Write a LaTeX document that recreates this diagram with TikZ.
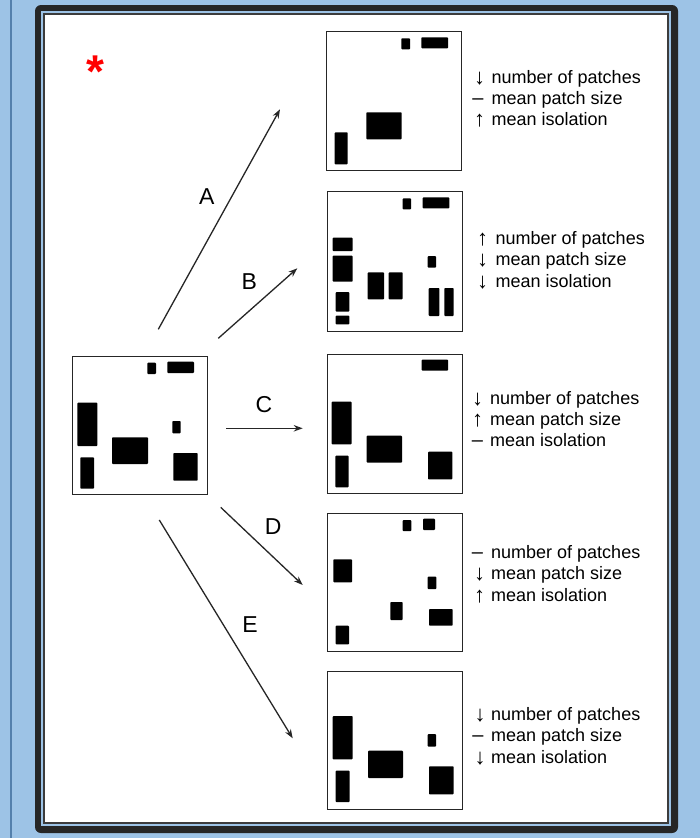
\documentclass[tikz,border=0pt]{standalone}
\usepackage{fontspec}
\setmainfont{Liberation Sans}
\usetikzlibrary{arrows.meta}
\definecolor{bgblue}{RGB}{157,195,230}
\definecolor{lineblue}{RGB}{84,128,172}
\definecolor{framedark}{RGB}{38,38,38}
\begin{document}
\begin{tikzpicture}[x=1pt,y=-1pt,
  landscape/.style={draw=black!85, line width=1.4pt, inner sep=0pt, anchor=north west, minimum width=135pt},
  patch/.style={fill=black, rounded corners=0.8pt},
  conn/.style={-{Stealth[length=9pt,width=6.5pt]}, line width=1.3pt, black!85},
  lbl/.style={inner sep=0pt, font=\fontsize{23}{23}\selectfont},
  sym/.style={anchor=base, inner sep=0pt, font=\fontsize{22}{22}\selectfont},
  dsh/.style={anchor=base, inner sep=0pt, font=\fontsize{20}{20}\selectfont},
  item/.style={anchor=base west, inner sep=0pt, font=\fontsize{18}{18}\selectfont}]
\useasboundingbox (0,0) rectangle (700,838);
% background and frame
\fill[bgblue] (0,0) rectangle (700,838);
\fill[lineblue] (10,0) rectangle (12.4,838);
\fill[framedark, rounded corners=6pt] (35,5) rectangle (678,833);
\fill[bgblue] (41,11) rectangle (671,826);
\fill[framedark!90] (42.7,12.7) rectangle (669,824);
\fill[white] (45,15) rectangle (667,822.3);
% asterisk
\node[inner sep=0pt, text=red, font=\fontsize{46}{46}\bfseries, anchor=base] (star) at (95.5,87) {*};
% left landscape
\node[landscape, minimum height=138pt] (L) at (72,356) {};
\begin{scope}[shift={(72,356)}]
\fill[patch] (75.3,6.7) rectangle (84,18);
\fill[patch] (95.3,5.7) rectangle (122,17);
\fill[patch] (5.3,46.7) rectangle (25.3,90);
\fill[patch] (100.3,65) rectangle (108.7,77.3);
\fill[patch] (40,81.3) rectangle (76,108);
\fill[patch] (8.3,101.3) rectangle (22,132.7);
\fill[patch] (101.3,97) rectangle (125.7,124.7);
\end{scope}
% box 1
\node[landscape, minimum height=139pt] (R1) at (326,31) {};
\begin{scope}[shift={(326,31)}]
\fill[patch] (75.3,7.3) rectangle (84,18.3);
\fill[patch] (95.3,6.3) rectangle (122,17.3);
\fill[patch] (40.3,81.3) rectangle (75.7,108.3);
\fill[patch] (8.7,101.3) rectangle (21.7,133.3);
\end{scope}
% box 2
\node[landscape, minimum height=140pt] (R2) at (327,191) {};
\begin{scope}[shift={(327,191)}]
\fill[patch] (75.7,7.3) rectangle (84,18.3);
\fill[patch] (95.7,6.3) rectangle (122.3,17.3);
\fill[patch] (5.7,46.7) rectangle (25.7,60);
\fill[patch] (5.7,64.7) rectangle (25.7,90.7);
\fill[patch] (8.7,101) rectangle (22.3,120.7);
\fill[patch] (8.7,124.7) rectangle (22.3,133.3);
\fill[patch] (40.7,81.3) rectangle (57,108.3);
\fill[patch] (61.7,81.3) rectangle (75.7,108.3);
\fill[patch] (100.7,65) rectangle (109,76.7);
\fill[patch] (101.7,97) rectangle (112.3,125);
\fill[patch] (117.3,97) rectangle (126.7,125);
\end{scope}
% box 3
\node[landscape, minimum height=139pt] (R3) at (327,354) {};
\begin{scope}[shift={(327,354)}]
\fill[patch] (94.7,5.7) rectangle (121,16.7);
\fill[patch] (4.7,47.7) rectangle (24.7,90.3);
\fill[patch] (39.7,81.7) rectangle (75,108.7);
\fill[patch] (8.3,101.7) rectangle (21.7,133.3);
\fill[patch] (101,97.7) rectangle (125.3,125.3);
\end{scope}
% box 4
\node[landscape, minimum height=138pt] (R4) at (327,513) {};
\begin{scope}[shift={(327,513)}]
\fill[patch] (75.7,7) rectangle (84.3,18);
\fill[patch] (96,5.7) rectangle (108,17);
\fill[patch] (6.3,46.3) rectangle (25,69.3);
\fill[patch] (100.7,63.7) rectangle (109.3,76);
\fill[patch] (63.3,89) rectangle (75.7,107);
\fill[patch] (102,96) rectangle (125.7,112.7);
\fill[patch] (8.7,112.7) rectangle (22,131.3);
\end{scope}
% box 5
\node[landscape, minimum height=138pt] (R5) at (327,671) {};
\begin{scope}[shift={(327,671)}]
\fill[patch] (5.7,45) rectangle (25.7,88.3);
\fill[patch] (100.7,63) rectangle (109,75.7);
\fill[patch] (41,79.7) rectangle (76,107);
\fill[patch] (8.7,99.7) rectangle (22.7,131);
\fill[patch] (102,95.3) rectangle (126.7,123.3);
\end{scope}
% connectors
\coordinate (a0) at (158.3,329.3); \coordinate (a1) at (280,109.3);
\coordinate (b0) at (218.3,338.3); \coordinate (b1) at (297.3,268.3);
\coordinate (c0) at (226,428.3);   \coordinate (c1) at (302.7,428.3);
\coordinate (d0) at (220.7,507.3); \coordinate (d1) at (302.7,585);
\coordinate (e0) at (159.3,520);   \coordinate (e1) at (292.7,738.3);
\draw[conn] (a0) -- (a1);
\draw[conn] (b0) -- (b1);
\draw[conn] (c0) -- (c1);
\draw[conn] (d0) -- (d1);
\draw[conn] (e0) -- (e1);
\node[lbl] (la) at (206.7,197) {A};
\node[lbl] (lb) at (249.3,282) {B};
\node[lbl] (lc) at (264,405) {C};
\node[lbl] (ld) at (273.3,527) {D};
\node[lbl] (le) at (250,625) {E};
% lists
\node[sym] (s11) at (479.5,84) {↓}; \node[item] (t11) at (491.5,83) {number of patches};
\node[dsh] (s12) at (478,104)  {–}; \node[item] (t12) at (491.5,104) {mean patch size};
\node[sym] (s13) at (479.5,126) {↑}; \node[item] (t13) at (491.5,125) {mean isolation};
\node[sym] (s21) at (482.5,245) {↑}; \node[item] (t21) at (495.5,244) {number of patches};
\node[sym] (s22) at (482.5,266.5) {↓}; \node[item] (t22) at (495.5,265.5) {mean patch size};
\node[sym] (s23) at (482.5,288) {↓}; \node[item] (t23) at (495.5,287) {mean isolation};
\node[sym] (s31) at (477.5,405) {↓}; \node[item] (t31) at (490,404) {number of patches};
\node[sym] (s32) at (477.5,426) {↑}; \node[item] (t32) at (490,425) {mean patch size};
\node[dsh] (s33) at (477.5,446) {–}; \node[item] (t33) at (490,446) {mean isolation};
\node[dsh] (s41) at (477.5,558) {–}; \node[item] (t41) at (491,558) {number of patches};
\node[sym] (s42) at (479.5,580.5) {↓}; \node[item] (t42) at (491,579.5) {mean patch size};
\node[sym] (s43) at (479.5,602) {↑}; \node[item] (t43) at (491,601) {mean isolation};
\node[sym] (s51) at (480,721) {↓}; \node[item] (t51) at (491,720) {number of patches};
\node[dsh] (s52) at (478,741.5) {–}; \node[item] (t52) at (491,741.5) {mean patch size};
\node[sym] (s53) at (480,764) {↓}; \node[item] (t53) at (491,763) {mean isolation};
\end{tikzpicture}
\end{document}
